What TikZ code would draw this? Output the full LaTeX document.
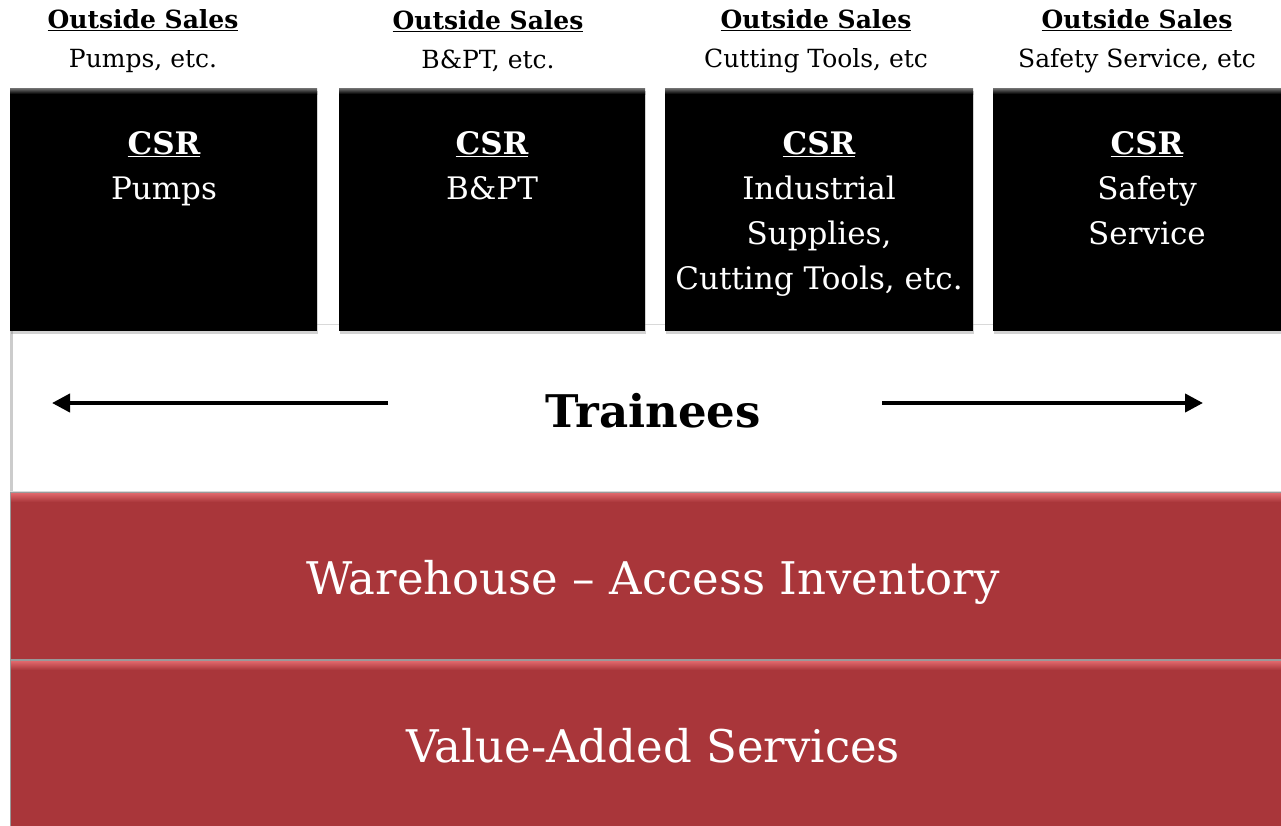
\documentclass[tikz,border=0pt]{standalone}
\usepackage{fontspec}
\setmainfont{DejaVu Serif}
\usetikzlibrary{arrows.meta,shadows}
\definecolor{redbox}{HTML}{A9363A}
\definecolor{redhi}{HTML}{E0686C}
\tikzset{
  blackbox/.style={fill=black, draw=none, drop shadow={shadow xshift=1pt,shadow yshift=-3pt,opacity=0.35}},
  blackbevel/.style={top color=black!55, bottom color=black, draw=none},
  redpanel/.style={fill=redbox, draw=black!40, line width=1pt},
  redbevel/.style={top color=redhi, bottom color=redbox, draw=none},
  whitepanel/.style={fill=white, draw=black!15, line width=1pt},
  toptext/.style={align=center, font=\fontsize{25}{39}\selectfont, text=black, inner sep=0pt},
  boxtext/.style={align=center, font=\fontsize{31}{45}\selectfont, text=white, inner sep=0pt, anchor=north},
  bigtext/.style={font=\fontsize{45}{50}\selectfont, text=white, inner sep=0pt},
  trainarrow/.style={-{Triangle[length=18pt,width=18pt]}, line width=4pt, black},
}
\begin{document}
\begin{tikzpicture}[x=1pt,y=-1pt]
\useasboundingbox (0,0) rectangle (1281,825);
\fill[white] (0,0) rectangle (1281,825);
% white trainee panel
\draw[whitepanel] (10,324) rectangle (1290,491);
\fill[black!20] (10,324) rectangle (13,491);
% red panels
\draw[redpanel] (10,492) rectangle (1290,659);
\path[redbevel] (11,493) rectangle (1290,502);
\draw[redpanel] (10,660) rectangle (1290,830);
\path[redbevel] (11,661) rectangle (1290,670);
% black boxes
\path[blackbox] (10,88) rectangle (317,331);
\path[blackbevel] (10,88) rectangle (317,94);
\path[blackbox] (339,88) rectangle (645,331);
\path[blackbevel] (339,88) rectangle (645,94);
\path[blackbox] (665,88) rectangle (973,331);
\path[blackbevel] (665,88) rectangle (973,94);
\path[blackbox] (993,88) rectangle (1290,331);
\path[blackbevel] (993,88) rectangle (1290,94);
% header texts
\node[toptext] (os1) at (143,41) {\textbf{\underline{Outside Sales}}\\Pumps, etc.};
\node[toptext] (os2) at (488,41) {\textbf{\underline{Outside Sales}}\\B\&PT, etc.};
\node[toptext] (os3) at (816,41) {\textbf{\underline{Outside Sales}}\\Cutting Tools, etc};
\node[toptext] (os4) at (1137,41) {\textbf{\underline{Outside Sales}}\\Safety Service, etc};
% box texts
\node[boxtext] (b1) at (164,131) {\textbf{\underline{CSR}}\\Pumps};
\node[boxtext] (b2) at (492,131) {\textbf{\underline{CSR}}\\B\&PT};
\node[boxtext] (b3) at (819,131) {\textbf{\underline{CSR}}\\Industrial\\Supplies,\\Cutting Tools, etc.};
\node[boxtext] (b4) at (1147,131) {\textbf{\underline{CSR}}\\Safety\\Service};
% trainees
\node[font=\fontsize{45}{50}\selectfont\bfseries, inner sep=0pt] (tr) at (653,411) {Trainees};
\coordinate (la) at (388,403);
\coordinate (lb) at (52,403);
\coordinate (ra) at (882,403);
\coordinate (rb) at (1203,403);
\draw[trainarrow] (la) -- (lb);
\draw[trainarrow] (ra) -- (rb);
% red panel texts
\node[bigtext] (wh) at (653,582) {Warehouse – Access Inventory};
\node[bigtext] (va) at (653,746) {Value-Added Services};
\end{tikzpicture}
\end{document}
